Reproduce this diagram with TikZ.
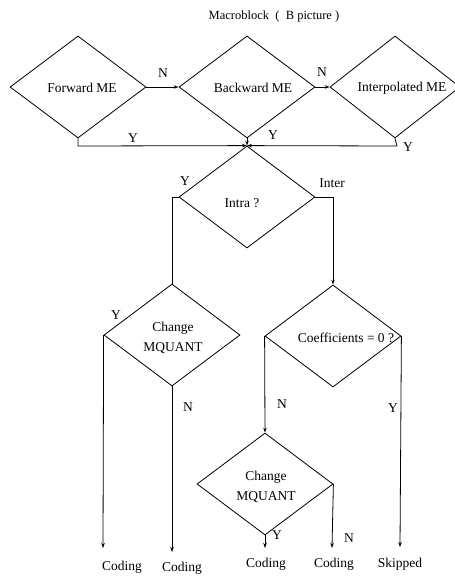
\documentclass[tikz,border=0pt]{standalone}
\usepackage{fontspec}
\setmainfont{Liberation Serif}
\usetikzlibrary{shapes.geometric,arrows.meta}
\begin{document}
\begin{tikzpicture}[x=1pt,y=-1pt,
  font=\fontsize{13.5}{15}\selectfont,
  line width=0.8pt,
  decision/.style={draw,shape=diamond,aspect=1.33,inner sep=0pt,
    minimum width=136pt,minimum height=102pt,align=center},
  txt/.style={inner sep=0pt,align=center},
  flow/.style={-{Stealth[length=5pt,width=3.5pt]}},
  plain/.style={-}]
\useasboundingbox (0,0) rectangle (455,576);

% title
\node[txt,font=\fontsize{12.5}{14}\selectfont] (title) at (274,16) {Macroblock \ ( \ B picture )};

% motion estimation stage
\node[decision] (fwd) at (78,87) {};
\node[decision] (bwd) at (247,87) {};
\node[decision,minimum width=130pt] (itp) at (395,87) {};
\node[txt] (fwdt) at (82,88) {Forward ME};
\node[txt] (bwdt) at (253,88) {Backward ME};
\node[txt] (itpt) at (402,88) {Interpolated ME};

% intra / inter decision
\node[decision] (intra) at (247,197) {};
\node[txt] (intrat) at (242,203) {Intra ?};

% left branch
\node[decision] (chg1) at (172,335) {};
\node[txt] (chg1t) at (173,338) {Change\\[5pt]MQUANT};

% right branch
\node[decision] (coef) at (333,336) {};
\node[txt] (coeft) at (346,338) {Coefficients = 0 ?};
\node[decision] (chg2) at (265,484) {};
\node[txt] (chg2t) at (266,487) {Change\\[5pt]MQUANT};

% outcomes
\node[txt] (out1) at (122,567) {Coding};
\node[txt] (out2) at (182,568) {Coding};
\node[txt] (out3) at (266,564) {Coding};
\node[txt] (out4) at (334,564) {Coding};
\node[txt] (out5) at (400,564) {Skipped};

% connector end points
\coordinate (jl) at (78,146);
\coordinate (jr) at (397,146);
\coordinate (il) at (172,197);
\coordinate (ir) at (333,197);
\coordinate (e1) at (103,548);
\coordinate (e2) at (172,552);
\coordinate (e3) at (265,548);
\coordinate (e4) at (332,548);
\coordinate (e5) at (400,547);

% connectors
\draw[flow] (fwd.east) -- (bwd.west);
\draw[flow] (bwd.east) -- (itp.west);
\draw[flow] (fwd.south) -- (jl) -- (intra.north);
\draw[flow] (itp.south) -- (jr) -- (intra.north);
\draw[flow] (bwd.south) -- (intra.north);
\draw[plain] (intra.west) -- (il) -- (chg1.north);
\draw[flow] (intra.east) -- (ir) -- (coef.north);
\draw[flow] (chg1.west) -- (e1);
\draw[flow] (chg1.south) -- (e2);
\draw[flow] (coef.west) -- (chg2.north);
\draw[flow] (coef.east) -- (e5);
\draw[flow] (chg2.south) -- (e3);
\draw[flow] (chg2.east) -- (e4);

% branch labels
\node[txt] (n1) at (163,73) {N};
\node[txt] (n2) at (322,72) {N};
\node[txt] (y1) at (133,138) {Y};
\node[txt] (y2) at (273,135) {Y};
\node[txt] (y3) at (408,147) {Y};
\node[txt] (y4) at (185,181) {Y};
\node[txt] (inter) at (332,183) {Inter};
\node[txt] (y5) at (116,315) {Y};
\node[txt] (n3) at (188,407) {N};
\node[txt] (n4) at (282,404) {N};
\node[txt] (y6) at (393,408) {Y};
\node[txt] (y7) at (277,535) {Y};
\node[txt] (n5) at (349,538) {N};
\end{tikzpicture}
\end{document}
